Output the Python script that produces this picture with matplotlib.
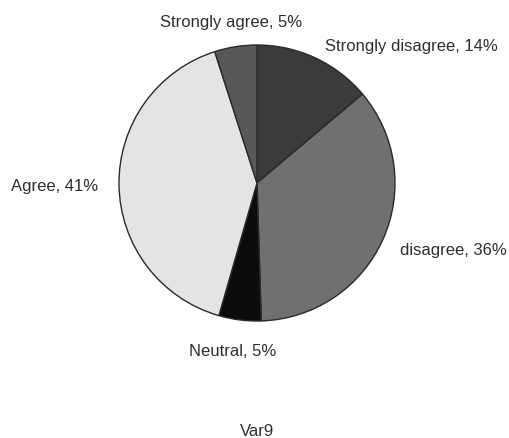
import matplotlib.pyplot as plt

plt.rcParams['font.family'] = ['Liberation Sans', 'DejaVu Sans']

# Risposte alla domanda Var9
categorie = ["Strongly disagree", "disagree", "Neutral", "Agree", "Strongly agree"]
percentuali = [14, 36, 5, 41, 5]
colori = ["#3b3b3b", "#707070", "#0c0c0c", "#e4e4e4", "#585858"]

# posizione delle etichette (pixel, origine in alto a sinistra)
pos_etichette = [(411, 47), (453, 250), (233, 351), (55, 187), (231, 22)]

W, H = 510, 438
fig = plt.figure(figsize=(W / 100, H / 100), dpi=100)
ax = fig.add_axes([0, 0, 1, 1])

ax.pie(percentuali, colors=colori, startangle=90, counterclock=False,
       center=(257, H - 183), radius=138,
       wedgeprops=dict(edgecolor="#2a2a2a", linewidth=1.0))

for nome, p, (x, y) in zip(categorie, percentuali, pos_etichette):
    ax.text(x, H - y, f"{nome}, {p}%", ha="center", va="center",
            fontsize=12, color="#2e2e2e")

ax.text(257, H - 431, "Var9", ha="center", va="center", fontsize=12, color="#2e2e2e")

ax.set_xlim(0, W)
ax.set_ylim(0, H)
ax.set_aspect("equal")
ax.axis("off")

fig.savefig("out.png", dpi=100, facecolor="white")
